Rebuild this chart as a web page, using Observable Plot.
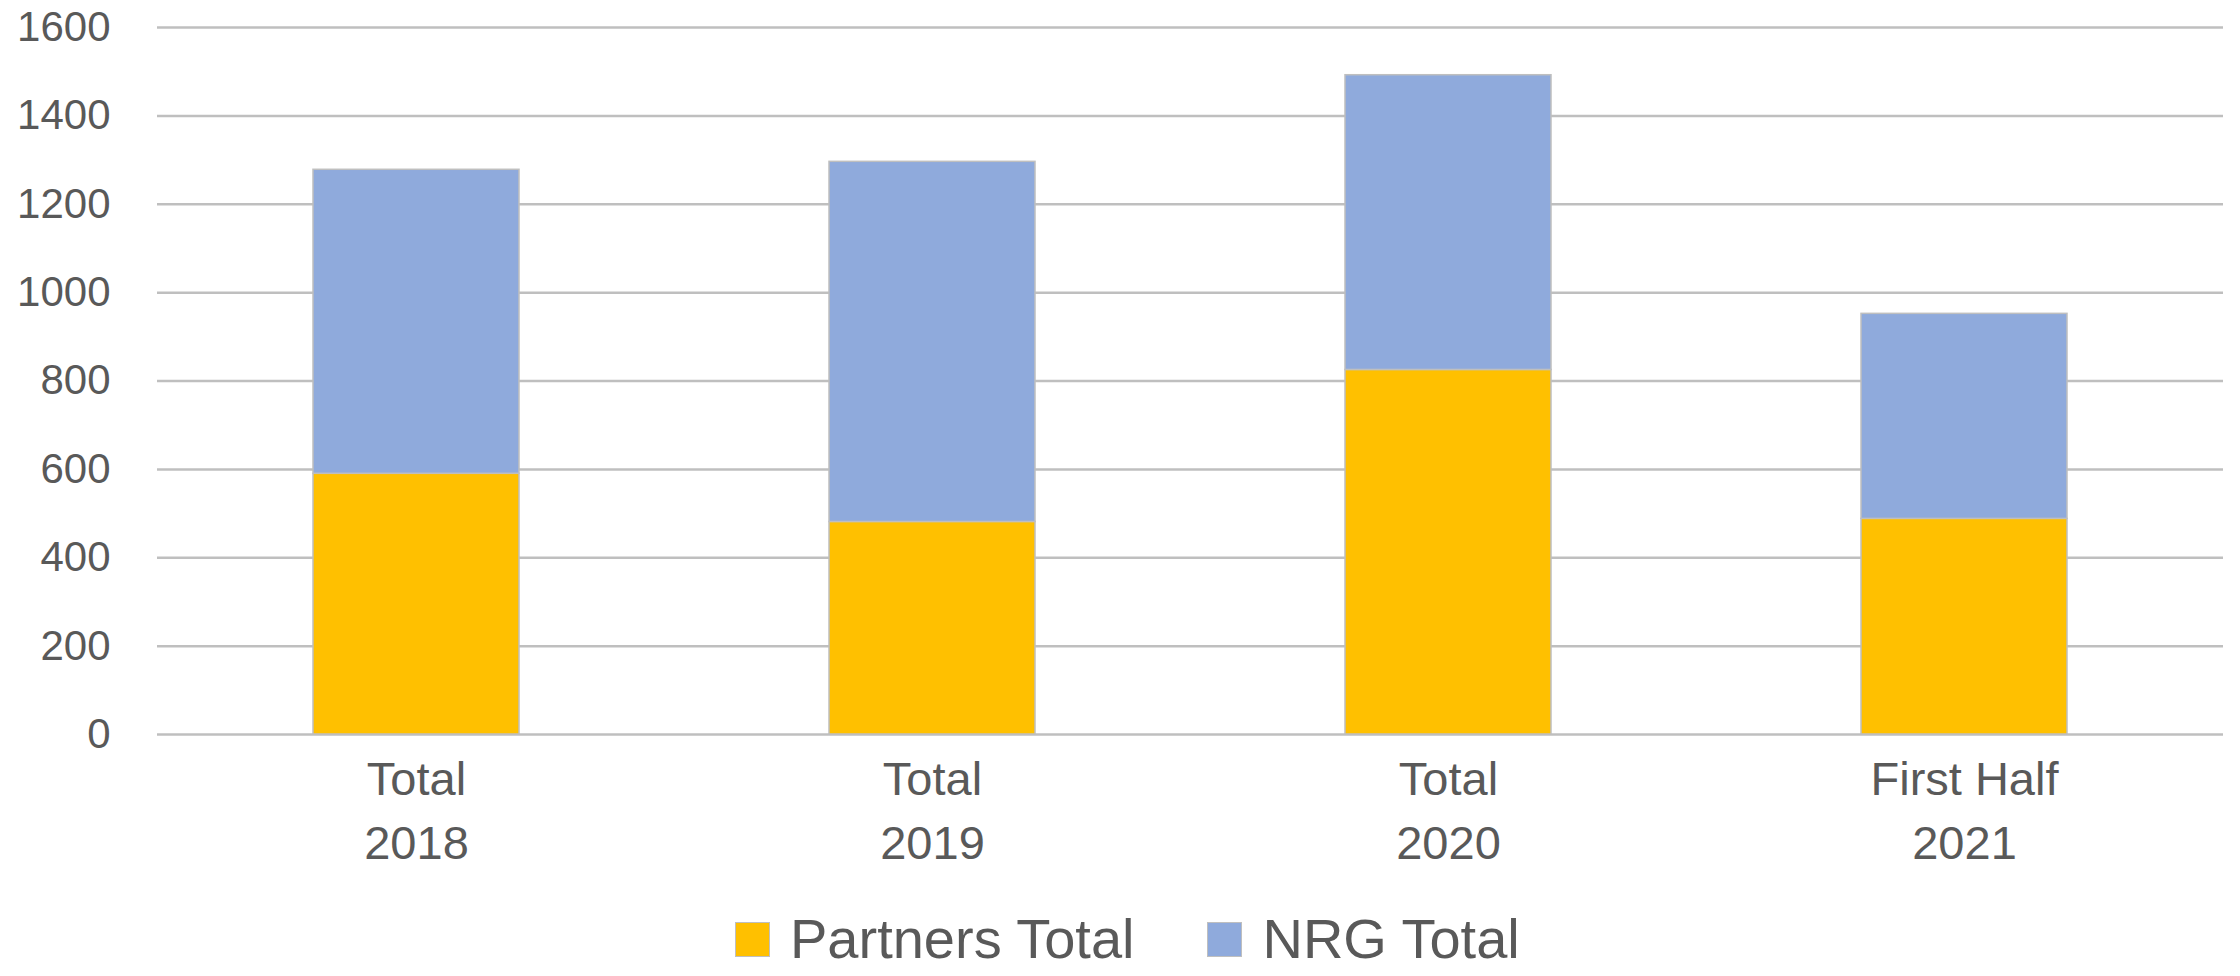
<!DOCTYPE html>
<html>
<head>
<meta charset="utf-8">
<script src="https://cdn.jsdelivr.net/npm/d3@7"></script>
<script src="https://cdn.jsdelivr.net/npm/@observablehq/plot@0.6"></script>
<style>
  html, body { margin: 0; padding: 0; background: #ffffff; }
  body { width: 2240px; height: 976px; position: relative; overflow: hidden; font-family: "Liberation Sans", Arial, sans-serif; }
  #chart { position: absolute; left: 0; top: 0; }
  #legend { position: absolute; left: 735px; top: 914px; height: 50px; display: flex; align-items: center; font-size: 56px; line-height: 50px; color: #595959; white-space: nowrap; }
  .item { display: flex; align-items: center; margin-right: 73px; }
  .sw { width: 35px; height: 35px; box-sizing: border-box; border: 1.5px solid #bfbfbf; margin-right: 20px; }
</style>
</head>
<body>
<div id="chart"></div>
<div id="legend"></div>
<script>
// ---- data ----
const categories = ["Total 2018", "Total 2019", "Total 2020", "First Half 2021"];
const labelLine1 = ["Total", "Total", "Total", "First Half"];
const labelLine2 = ["2018", "2019", "2020", "2021"];
const seriesNames = ["Partners Total", "NRG Total"];
const partnersTotal = [590, 481, 825, 488];
const nrgTotal = [688, 815, 667, 464];
const yTicks = [0, 200, 400, 600, 800, 1000, 1200, 1400, 1600];
const seriesColors = ["#FFC000", "#8FAADC"];

const rows = categories.flatMap((c, i) => [
  {cat: c, series: seriesNames[0], value: partnersTotal[i]},
  {cat: c, series: seriesNames[1], value: nrgTotal[i]}
]);

const chart = Plot.plot({
  width: 2240,
  height: 905,
  marginTop: 27,
  marginBottom: 171,
  marginLeft: 157,
  marginRight: 17,
  style: {fontFamily: "'Liberation Sans', Arial, sans-serif", color: "#595959", background: "white", overflow: "visible"},
  x: {domain: categories, paddingInner: 0.6, paddingOuter: 0.3, label: null},
  y: {domain: [0, 1600], label: null},
  color: {domain: seriesNames, range: seriesColors},
  marks: [
    Plot.gridY(yTicks, {stroke: "#bfbfbf", strokeOpacity: 1, strokeWidth: 2.5}),
    Plot.barY(rows, Plot.stackY({x: "cat", y: "value", fill: "series", stroke: "#bfbfbf", strokeWidth: 1.5})),
    Plot.axisY(yTicks, {tickSize: 0, tickPadding: 47, fontSize: 42, fill: "#595959", label: null,
      tickFormat: d => String(d)}),
    Plot.axisX({tickSize: 0, tickPadding: 14, fontSize: 47, fill: "#595959", lineHeight: 1.38, label: null,
      tickFormat: d => { const i = categories.indexOf(d); return labelLine1[i] + "\n" + labelLine2[i]; }})
  ]
});
document.getElementById("chart").appendChild(chart);

const legend = document.getElementById("legend");
seriesNames.forEach((s, i) => {
  const item = document.createElement("div");
  item.className = "item";
  const sw = document.createElement("div");
  sw.className = "sw";
  sw.style.background = seriesColors[i];
  const t = document.createElement("span");
  t.textContent = s;
  item.appendChild(sw);
  item.appendChild(t);
  legend.appendChild(item);
});
</script>
</body>
</html>
